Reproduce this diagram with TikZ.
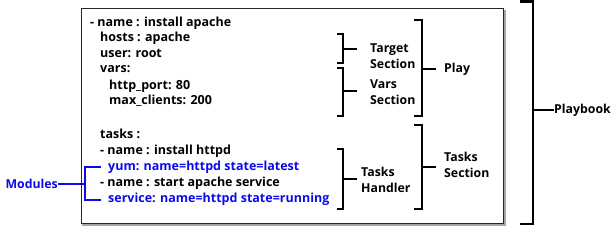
\documentclass[tikz,border=0pt]{standalone}
\usepackage{fontspec}
\setmainfont{Open Sans}
\definecolor{modblue}{RGB}{10,10,235}
\begin{document}
\begin{tikzpicture}[x=1pt, y=-1pt,
    yml/.style = {anchor=west, inner sep=0pt, font=\bfseries\fontsize{12.5}{16}\selectfont, text height=9pt, text depth=2.5pt},
    mods/.style = {yml, text=modblue},
    lbl/.style = {anchor=west, inner sep=0pt, align=left, font=\bfseries\fontsize{12.3}{16}\selectfont},
    brace/.style = {line width=2.4pt},
    modbrace/.style = {modblue, line width=2pt}]
	\useasboundingbox (0,0) rectangle (615,227);
	% playbook frame
	\draw[black!35, line width=1.5pt] (83,11) rectangle (505,225);
	\draw[fill=white, draw=black!85, line width=1pt] (81,9) rectangle (503,223);
	% yaml lines
	\node[yml] (l1) at (90,23) {- name : install apache};
	\node[yml] (l2) at (100,38) {hosts : apache};
	\node[yml] (l3) at (100,54) {user: root};
	\node[yml] (l4) at (100,69) {vars:};
	\node[yml] (l5) at (109,86) {http\_port: 80};
	\node[yml] (l6) at (109,101) {max\_clients: 200};
	\node[yml] (l7) at (100,135) {tasks :};
	\node[yml] (l8) at (100,151) {- name : install httpd};
	\node[mods] (l9) at (108,167) {yum: name=httpd state=latest};
	\node[yml] (l10) at (100,183) {- name : start apache service};
	\node[mods] (l11) at (108,199) {service: name=httpd state=running};
	% labels
	\node[lbl] (tgt) at (370,56) {Target\\Section};
	\node[lbl] (vrs) at (370,92) {Vars\\Section};
	\node[lbl] (play) at (444,69) {Play};
	\node[lbl] (hnd) at (361,180) {Tasks\\Handler};
	\node[lbl] (tsk) at (444,165) {Tasks\\Section};
	\node[lbl] (book) at (554,110) {Playbook};
	\node[lbl, anchor=east, text=modblue] (mod) at (58,184) {Modules};
	% brackets
	\draw[brace] (337,34) -| (343,63) -- (337,63);
	\draw[brace] (343,49) -- (357,49);
	\draw[brace] (337,68) -| (343,116) -- (337,116);
	\draw[brace] (343,91) -- (357,91);
	\draw[brace] (414,20) -| (422,116) -- (414,116);
	\draw[brace] (422,69) -- (436,69);
	\draw[brace] (337,149) -| (343,209) -- (337,209);
	\draw[brace] (343,179) -- (357,179);
	\draw[brace] (414,125) -| (422,209) -- (414,209);
	\draw[brace] (422,167) -- (436,167);
	\draw[brace] (520,1.5) -| (533,224) -- (520,224);
	\draw[brace] (533,110) -- (book.west);
	% modules bracket
	\draw[modbrace] (101,167) -| (85,200) -- (101,200);
	\draw[modbrace] (mod.east) -- (85,184);
\end{tikzpicture}
\end{document}
